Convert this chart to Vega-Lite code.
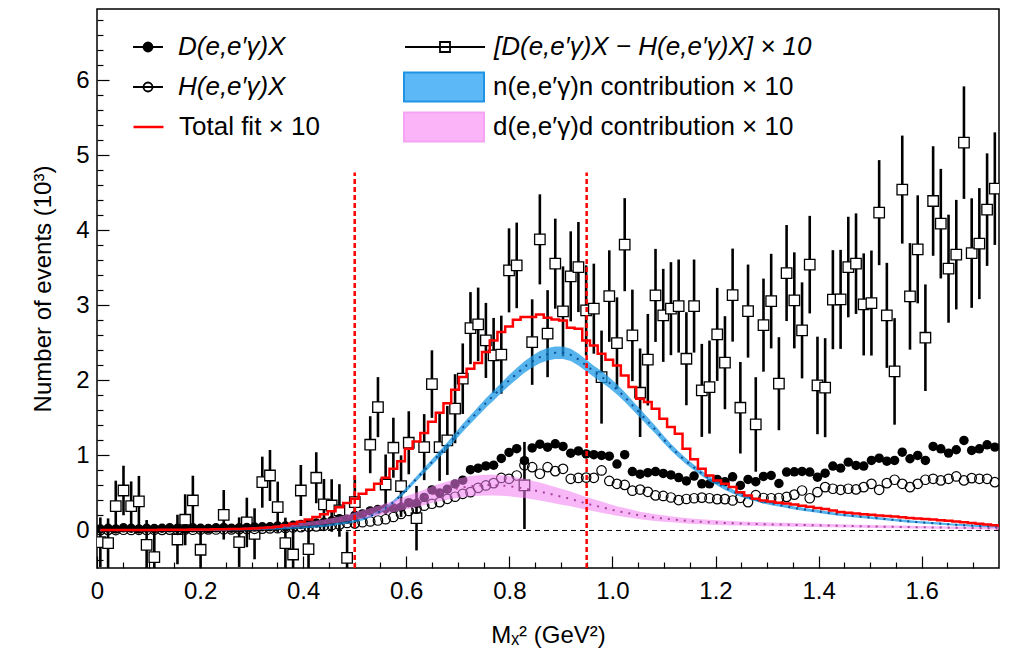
{
  "$schema": "https://vega.github.io/schema/vega-lite/v6.json",
  "width": 902,
  "height": 559,
  "autosize": {"type": "none"},
  "padding": {"left": 97, "top": 9, "right": 11, "bottom": 82},
  "background": "white",
  "config": {
    "view": {"stroke": "black", "strokeWidth": 1.5},
    "font": "Liberation Sans",
    "axis": {"labelFont": "Liberation Sans", "titleFont": "Liberation Sans", "labelColor": "black", "titleColor": "black", "titleFontWeight": "normal", "domain": false, "grid": false, "tickColor": "black", "tickWidth": 1.2, "labelOverlap": false, "labelFlush": false},
    "legend": {"orient": "none", "rowPadding": 8, "padding": 0, "symbolSize": 6400, "clipHeight": 32, "symbolOffset": 0, "labelOffset": 8, "labelFont": "Liberation Sans", "labelFontSize": 26, "labelColor": "black", "labelLimit": 1000, "symbolOpacity": 1, "symbolStrokeWidth": 1.8}
  },
  "resolve": {
    "axis": {"x": "independent", "y": "independent"},
    "scale": {"shape": "independent", "fill": "independent", "stroke": "independent"},
    "legend": {"shape": "independent", "fill": "independent", "stroke": "independent"}
  },
  "datasets": {
    "bins": [
{"x":0.0065,"D":0.02,"H":0.005,"S":-0.156,"E":0.33,"F":0.005,"N":0.004,"NE":0.012,"P":0.002,"PE":0.008},
{"x":0.0215,"D":0.03,"H":0.008,"S":-0.169,"E":0.33,"F":0.005,"N":0.004,"NE":0.012,"P":0.002,"PE":0.008},
{"x":0.0364,"D":0.02,"H":0.006,"S":0.324,"E":0.34,"F":0.006,"N":0.004,"NE":0.012,"P":0.002,"PE":0.008},
{"x":0.0514,"D":0.035,"H":0.01,"S":0.533,"E":0.33,"F":0.006,"N":0.004,"NE":0.012,"P":0.002,"PE":0.008},
{"x":0.0663,"D":0.03,"H":0.007,"S":0.324,"E":0.33,"F":0.007,"N":0.004,"NE":0.012,"P":0.003,"PE":0.009},
{"x":0.0813,"D":0.02,"H":0.009,"S":0.387,"E":0.34,"F":0.007,"N":0.004,"NE":0.012,"P":0.003,"PE":0.009},
{"x":0.0963,"D":0.03,"H":0.006,"S":-0.191,"E":0.33,"F":0.008,"N":0.004,"NE":0.012,"P":0.003,"PE":0.009},
{"x":0.1112,"D":0.025,"H":0.01,"S":-0.356,"E":0.33,"F":0.008,"N":0.006,"NE":0.012,"P":0.004,"PE":0.009},
{"x":0.1262,"D":0.03,"H":0.008,"F":0.009,"N":0.006,"NE":0.012,"P":0.004,"PE":0.009},
{"x":0.1411,"D":0.035,"H":0.011,"F":0.01,"N":0.006,"NE":0.012,"P":0.005,"PE":0.009},
{"x":0.1561,"D":0.03,"H":0.009,"S":-0.12,"E":0.33,"F":0.01,"N":0.006,"NE":0.012,"P":0.005,"PE":0.009},
{"x":0.1711,"D":0.02,"H":0.012,"S":0.143,"E":0.34,"F":0.011,"N":0.006,"NE":0.012,"P":0.006,"PE":0.009},
{"x":0.186,"D":0.035,"H":0.01,"S":0.4,"E":0.33,"F":0.012,"N":0.006,"NE":0.012,"P":0.006,"PE":0.009},
{"x":0.201,"D":0.03,"H":0.012,"S":-0.257,"E":0.33,"F":0.013,"N":0.006,"NE":0.012,"P":0.008,"PE":0.01},
{"x":0.2159,"D":0.025,"H":0.014,"F":0.014,"N":0.008,"NE":0.012,"P":0.01,"PE":0.01},
{"x":0.2309,"D":0.035,"H":0.013,"F":0.015,"N":0.009,"NE":0.012,"P":0.012,"PE":0.011},
{"x":0.2459,"D":0.04,"H":0.016,"S":0.209,"E":0.33,"F":0.017,"N":0.01,"NE":0.012,"P":0.014,"PE":0.011},
{"x":0.2608,"D":0.03,"H":0.015,"F":0.019,"N":0.012,"NE":0.012,"P":0.017,"PE":0.012},
{"x":0.2758,"D":0.035,"H":0.018,"S":-0.156,"E":0.33,"F":0.021,"N":0.013,"NE":0.012,"P":0.021,"PE":0.013},
{"x":0.2907,"D":0.04,"H":0.02,"S":0.107,"E":0.33,"F":0.024,"N":0.015,"NE":0.012,"P":0.025,"PE":0.013},
{"x":0.3057,"D":0.045,"H":0.022,"S":-0.044,"E":0.34,"F":0.028,"N":0.017,"NE":0.013,"P":0.03,"PE":0.014},
{"x":0.3207,"D":0.05,"H":0.025,"S":0.644,"E":0.34,"F":0.033,"N":0.019,"NE":0.013,"P":0.035,"PE":0.016},
{"x":0.3356,"D":0.05,"H":0.028,"S":0.733,"E":0.34,"F":0.04,"N":0.022,"NE":0.013,"P":0.041,"PE":0.017},
{"x":0.3506,"D":0.06,"H":0.03,"S":0.311,"E":0.34,"F":0.05,"N":0.026,"NE":0.013,"P":0.049,"PE":0.019},
{"x":0.3655,"D":0.06,"H":0.034,"S":-0.169,"E":0.34,"F":0.07,"N":0.03,"NE":0.013,"P":0.057,"PE":0.02},
{"x":0.3805,"D":0.07,"H":0.04,"S":-0.32,"E":0.34,"F":0.09,"N":0.035,"NE":0.013,"P":0.066,"PE":0.022},
{"x":0.3955,"D":0.08,"H":0.045,"S":0.533,"E":0.34,"F":0.115,"N":0.04,"NE":0.013,"P":0.077,"PE":0.025},
{"x":0.4104,"D":0.09,"H":0.05,"S":-0.249,"E":0.34,"F":0.145,"N":0.047,"NE":0.013,"P":0.089,"PE":0.027},
{"x":0.4254,"D":0.1,"H":0.055,"S":0.703,"E":0.34,"F":0.18,"N":0.055,"NE":0.014,"P":0.1,"PE":0.03},
{"x":0.4403,"D":0.11,"H":0.062,"S":0.347,"E":0.34,"F":0.215,"N":0.064,"NE":0.014,"P":0.113,"PE":0.032},
{"x":0.4553,"D":0.13,"H":0.07,"S":0.333,"E":0.35,"F":0.255,"N":0.075,"NE":0.014,"P":0.13,"PE":0.036},
{"x":0.4703,"D":0.155,"H":0.078,"S":0.267,"E":0.35,"F":0.31,"N":0.09,"NE":0.015,"P":0.148,"PE":0.04},
{"x":0.4852,"D":0.15,"H":0.1,"S":-0.364,"E":0.35,"F":0.365,"N":0.105,"NE":0.015,"P":0.168,"PE":0.044},
{"x":0.5002,"D":0.2,"H":0.095,"S":0.377,"E":0.35,"F":0.422,"N":0.125,"NE":0.016,"P":0.19,"PE":0.049},
{"x":0.5151,"D":0.22,"H":0.11,"F":0.489,"N":0.15,"NE":0.017,"P":0.215,"PE":0.054},
{"x":0.5301,"D":0.26,"H":0.12,"S":1.143,"E":0.38,"F":0.542,"N":0.19,"NE":0.018,"P":0.24,"PE":0.06},
{"x":0.5451,"D":0.28,"H":0.133,"S":1.644,"E":0.4,"F":0.622,"N":0.24,"NE":0.019,"P":0.265,"PE":0.065},
{"x":0.56,"D":0.29,"H":0.15,"S":0.613,"E":0.4,"F":0.702,"N":0.3,"NE":0.021,"P":0.29,"PE":0.07},
{"x":0.575,"D":0.3,"H":0.18,"S":1.103,"E":0.4,"F":0.822,"N":0.38,"NE":0.023,"P":0.32,"PE":0.077},
{"x":0.5899,"D":0.31,"H":0.22,"S":0.591,"E":0.41,"F":0.924,"N":0.47,"NE":0.026,"P":0.35,"PE":0.083},
{"x":0.6049,"D":0.37,"H":0.26,"S":1.169,"E":0.42,"F":1.09,"N":0.58,"NE":0.029,"P":0.38,"PE":0.09},
{"x":0.6199,"D":0.36,"H":0.29,"S":0.164,"E":0.43,"F":1.185,"N":0.69,"NE":0.033,"P":0.41,"PE":0.096},
{"x":0.6348,"D":0.44,"H":0.33,"S":1.111,"E":0.44,"F":1.3,"N":0.8,"NE":0.036,"P":0.44,"PE":0.103},
{"x":0.6498,"D":0.54,"H":0.356,"S":1.951,"E":0.45,"F":1.45,"N":0.91,"NE":0.039,"P":0.48,"PE":0.111},
{"x":0.6647,"D":0.5,"H":0.378,"S":1.111,"E":0.45,"F":1.57,"N":1.02,"NE":0.043,"P":0.505,"PE":0.117},
{"x":0.6797,"D":0.55,"H":0.422,"S":1.2,"E":0.46,"F":1.695,"N":1.13,"NE":0.046,"P":0.53,"PE":0.122},
{"x":0.6947,"D":0.62,"H":0.45,"S":1.623,"E":0.46,"F":1.876,"N":1.25,"NE":0.05,"P":0.555,"PE":0.127},
{"x":0.7096,"D":0.67,"H":0.489,"S":2.023,"E":0.47,"F":2.044,"N":1.37,"NE":0.053,"P":0.575,"PE":0.132},
{"x":0.7246,"D":0.81,"H":0.511,"S":2.697,"E":0.48,"F":2.156,"N":1.48,"NE":0.056,"P":0.59,"PE":0.135},
{"x":0.7395,"D":0.83,"H":0.569,"S":2.747,"E":0.49,"F":2.231,"N":1.59,"NE":0.06,"P":0.6,"PE":0.137},
{"x":0.7545,"D":0.86,"H":0.6,"S":2.533,"E":0.5,"F":2.378,"N":1.7,"NE":0.063,"P":0.605,"PE":0.138},
{"x":0.7695,"D":0.87,"H":0.631,"S":2.333,"E":0.5,"F":2.533,"N":1.8,"NE":0.066,"P":0.605,"PE":0.138},
{"x":0.7844,"D":0.96,"H":0.7,"S":2.343,"E":0.52,"F":2.644,"N":1.9,"NE":0.069,"P":0.6,"PE":0.137},
{"x":0.7994,"D":1.04,"H":0.689,"S":3.467,"E":0.56,"F":2.72,"N":2.0,"NE":0.072,"P":0.59,"PE":0.135},
{"x":0.8143,"D":1.09,"H":0.733,"S":3.533,"E":0.57,"F":2.809,"N":2.09,"NE":0.075,"P":0.575,"PE":0.132},
{"x":0.8293,"D":0.93,"H":0.87,"S":0.6,"E":0.58,"F":2.844,"N":2.18,"NE":0.077,"P":0.56,"PE":0.128},
{"x":0.8443,"D":1.1,"H":0.844,"S":2.511,"E":0.57,"F":2.844,"N":2.25,"NE":0.08,"P":0.54,"PE":0.124},
{"x":0.8592,"D":1.15,"H":0.756,"S":3.88,"E":0.6,"F":2.88,"N":2.31,"NE":0.081,"P":0.52,"PE":0.12},
{"x":0.8742,"D":1.11,"H":0.844,"S":2.623,"E":0.58,"F":2.836,"N":2.35,"NE":0.083,"P":0.495,"PE":0.114},
{"x":0.8891,"D":1.155,"H":0.791,"S":3.556,"E":0.6,"F":2.813,"N":2.37,"NE":0.083,"P":0.47,"PE":0.109},
{"x":0.9041,"D":1.12,"H":0.822,"S":2.92,"E":0.6,"F":2.8,"N":2.37,"NE":0.083,"P":0.445,"PE":0.104},
{"x":0.9191,"D":1.03,"H":0.689,"S":3.387,"E":0.6,"F":2.702,"N":2.34,"NE":0.082,"P":0.42,"PE":0.098},
{"x":0.934,"D":1.06,"H":0.7,"S":3.511,"E":0.6,"F":2.689,"N":2.28,"NE":0.08,"P":0.39,"PE":0.092},
{"x":0.949,"D":1.02,"H":0.705,"S":2.933,"E":0.6,"F":2.533,"N":2.2,"NE":0.078,"P":0.36,"PE":0.085},
{"x":0.9639,"D":1.01,"H":0.702,"S":2.956,"E":0.6,"F":2.467,"N":2.12,"NE":0.076,"P":0.335,"PE":0.08},
{"x":0.9789,"D":1.0,"H":0.8,"S":2.044,"E":0.62,"F":2.356,"N":2.05,"NE":0.074,"P":0.31,"PE":0.075},
{"x":0.9939,"D":0.99,"H":0.66,"S":3.124,"E":0.61,"F":2.276,"N":1.97,"NE":0.071,"P":0.285,"PE":0.069},
{"x":1.0088,"D":0.885,"H":0.622,"S":2.497,"E":0.61,"F":2.2,"N":1.88,"NE":0.068,"P":0.26,"PE":0.064},
{"x":1.0238,"D":1.01,"H":0.607,"S":3.809,"E":0.62,"F":2.067,"N":1.78,"NE":0.065,"P":0.24,"PE":0.06},
{"x":1.0387,"D":0.785,"H":0.53,"S":2.6,"E":0.61,"F":1.911,"N":1.67,"NE":0.062,"P":0.22,"PE":0.055},
{"x":1.0537,"D":0.75,"H":0.545,"S":1.836,"E":0.59,"F":1.756,"N":1.56,"NE":0.059,"P":0.2,"PE":0.051},
{"x":1.0687,"D":0.77,"H":0.515,"S":2.276,"E":0.61,"F":1.711,"N":1.45,"NE":0.056,"P":0.185,"PE":0.048},
{"x":1.0836,"D":0.785,"H":0.467,"S":3.133,"E":0.62,"F":1.622,"N":1.34,"NE":0.052,"P":0.17,"PE":0.045},
{"x":1.0986,"D":0.76,"H":0.46,"S":2.867,"E":0.62,"F":1.489,"N":1.22,"NE":0.049,"P":0.16,"PE":0.042},
{"x":1.1135,"D":0.74,"H":0.44,"S":2.956,"E":0.62,"F":1.378,"N":1.11,"NE":0.045,"P":0.15,"PE":0.04},
{"x":1.1285,"D":0.705,"H":0.405,"S":2.991,"E":0.62,"F":1.289,"N":1.01,"NE":0.042,"P":0.14,"PE":0.038},
{"x":1.1435,"D":0.66,"H":0.42,"S":2.289,"E":0.62,"F":1.089,"N":0.92,"NE":0.04,"P":0.13,"PE":0.036},
{"x":1.1584,"D":0.725,"H":0.43,"S":2.991,"E":0.62,"F":0.95,"N":0.84,"NE":0.037,"P":0.122,"PE":0.034},
{"x":1.1734,"D":0.622,"H":0.438,"S":1.867,"E":0.62,"F":0.822,"N":0.76,"NE":0.035,"P":0.116,"PE":0.033},
{"x":1.1883,"D":0.622,"H":0.43,"S":1.911,"E":0.62,"F":0.733,"N":0.69,"NE":0.033,"P":0.11,"PE":0.032},
{"x":1.2033,"D":0.68,"H":0.418,"S":2.613,"E":0.62,"F":0.667,"N":0.63,"NE":0.031,"P":0.105,"PE":0.031},
{"x":1.2183,"D":0.65,"H":0.418,"S":2.236,"E":0.62,"F":0.622,"N":0.57,"NE":0.029,"P":0.1,"PE":0.03},
{"x":1.2332,"D":0.715,"H":0.4,"S":3.137,"E":0.62,"F":0.578,"N":0.52,"NE":0.028,"P":0.096,"PE":0.029},
{"x":1.2482,"D":0.6,"H":0.435,"S":1.636,"E":0.61,"F":0.511,"N":0.475,"NE":0.026,"P":0.093,"PE":0.028},
{"x":1.2631,"D":0.68,"H":0.378,"S":2.924,"E":0.62,"F":0.467,"N":0.44,"NE":0.025,"P":0.09,"PE":0.027},
{"x":1.2781,"D":0.65,"H":0.47,"S":1.413,"E":0.63,"F":0.422,"N":0.41,"NE":0.024,"P":0.087,"PE":0.027},
{"x":1.2931,"D":0.72,"H":0.433,"S":2.737,"E":0.62,"F":0.4,"N":0.385,"NE":0.024,"P":0.084,"PE":0.026},
{"x":1.308,"D":0.733,"H":0.43,"S":3.057,"E":0.63,"F":0.385,"N":0.36,"NE":0.023,"P":0.081,"PE":0.025},
{"x":1.323,"D":0.626,"H":0.433,"S":1.956,"E":0.62,"F":0.37,"N":0.34,"NE":0.022,"P":0.079,"PE":0.025},
{"x":1.3379,"D":0.778,"H":0.447,"S":3.431,"E":0.64,"F":0.36,"N":0.32,"NE":0.022,"P":0.077,"PE":0.025},
{"x":1.3529,"D":0.782,"H":0.478,"S":3.067,"E":0.64,"F":0.345,"N":0.3,"NE":0.021,"P":0.075,"PE":0.024},
{"x":1.3679,"D":0.787,"H":0.533,"S":2.667,"E":0.64,"F":0.33,"N":0.285,"NE":0.021,"P":0.073,"PE":0.024},
{"x":1.3828,"D":0.778,"H":0.43,"S":3.543,"E":0.65,"F":0.315,"N":0.27,"NE":0.02,"P":0.071,"PE":0.023},
{"x":1.3978,"D":0.711,"H":0.511,"S":1.933,"E":0.65,"F":0.3,"N":0.255,"NE":0.02,"P":0.069,"PE":0.023},
{"x":1.4127,"D":0.764,"H":0.578,"S":1.903,"E":0.66,"F":0.285,"N":0.24,"NE":0.019,"P":0.066,"PE":0.022},
{"x":1.4277,"D":0.858,"H":0.556,"S":3.076,"E":0.66,"F":0.265,"N":0.225,"NE":0.019,"P":0.064,"PE":0.022},
{"x":1.4427,"D":0.831,"H":0.542,"S":3.08,"E":0.66,"F":0.245,"N":0.21,"NE":0.018,"P":0.062,"PE":0.021},
{"x":1.4576,"D":0.911,"H":0.556,"S":3.511,"E":0.67,"F":0.235,"N":0.2,"NE":0.018,"P":0.06,"PE":0.021},
{"x":1.4726,"D":0.867,"H":0.547,"S":3.556,"E":0.67,"F":0.225,"N":0.19,"NE":0.018,"P":0.058,"PE":0.02},
{"x":1.4875,"D":0.858,"H":0.578,"S":3.013,"E":0.68,"F":0.218,"N":0.18,"NE":0.017,"P":0.056,"PE":0.02},
{"x":1.5025,"D":0.933,"H":0.622,"S":3.031,"E":0.7,"F":0.21,"N":0.17,"NE":0.017,"P":0.053,"PE":0.019},
{"x":1.5175,"D":0.964,"H":0.542,"S":4.236,"E":0.7,"F":0.2,"N":0.16,"NE":0.017,"P":0.052,"PE":0.019},
{"x":1.5324,"D":0.924,"H":0.631,"S":2.867,"E":0.7,"F":0.193,"N":0.15,"NE":0.017,"P":0.05,"PE":0.019},
{"x":1.5474,"D":0.933,"H":0.676,"S":2.12,"E":0.71,"F":0.185,"N":0.14,"NE":0.016,"P":0.049,"PE":0.019},
{"x":1.5623,"D":1.044,"H":0.622,"S":4.543,"E":0.72,"F":0.175,"N":0.13,"NE":0.016,"P":0.047,"PE":0.018},
{"x":1.5773,"D":0.956,"H":0.578,"S":3.12,"E":0.71,"F":0.168,"N":0.12,"NE":0.016,"P":0.046,"PE":0.018},
{"x":1.5923,"D":1.0,"H":0.622,"S":3.747,"E":0.72,"F":0.16,"N":0.112,"NE":0.015,"P":0.044,"PE":0.017},
{"x":1.6072,"D":0.933,"H":0.676,"S":2.569,"E":0.71,"F":0.153,"N":0.104,"NE":0.015,"P":0.043,"PE":0.017},
{"x":1.6222,"D":1.12,"H":0.689,"S":4.391,"E":0.73,"F":0.145,"N":0.097,"NE":0.015,"P":0.041,"PE":0.017},
{"x":1.6371,"D":1.089,"H":0.667,"S":4.089,"E":0.73,"F":0.138,"N":0.09,"NE":0.015,"P":0.04,"PE":0.017},
{"x":1.6521,"D":1.031,"H":0.689,"S":3.489,"E":0.72,"F":0.13,"N":0.083,"NE":0.014,"P":0.038,"PE":0.016},
{"x":1.6671,"D":1.076,"H":0.72,"S":3.676,"E":0.73,"F":0.12,"N":0.077,"NE":0.014,"P":0.037,"PE":0.016},
{"x":1.682,"D":1.2,"H":0.667,"S":5.169,"E":0.75,"F":0.11,"N":0.071,"NE":0.014,"P":0.035,"PE":0.016},
{"x":1.697,"D":1.067,"H":0.698,"S":3.697,"E":0.73,"F":0.1,"N":0.065,"NE":0.014,"P":0.033,"PE":0.015},
{"x":1.7119,"D":1.089,"H":0.689,"S":3.823,"E":0.74,"F":0.09,"N":0.06,"NE":0.014,"P":0.032,"PE":0.015},
{"x":1.7269,"D":1.142,"H":0.689,"S":4.276,"E":0.75,"F":0.08,"N":0.055,"NE":0.014,"P":0.03,"PE":0.014},
{"x":1.7419,"D":1.111,"H":0.644,"S":4.556,"E":0.75,"F":0.07,"N":0.05,"NE":0.014,"P":0.028,"PE":0.014},
{"x":1.7568,"F":0.06,"N":0.046,"NE":0.013,"P":0.027,"PE":0.014}
    ]
  },
  "layer": [
    {
      "data": {"name": "bins"},
      "transform": [{"filter": "isValid(datum.S)"}],
      "mark": {"type": "errorbar", "thickness": 2.6, "color": "black", "clip": true},
      "encoding": {
        "x": {"field": "x", "type": "quantitative", "scale": {"domain": [0, 1.75], "nice": false, "zero": false}, "axis": null},
        "y": {"field": "S", "type": "quantitative", "scale": {"domain": [-0.5, 6.95], "nice": false, "zero": false}, "axis": null},
        "yError": {"field": "E"}
      }
    },
    {
      "data": {"name": "bins"},
      "transform": [{"filter": "isValid(datum.S)"}],
      "mark": {"type": "point", "shape": "square", "filled": true, "fill": "white", "stroke": "black", "strokeWidth": 1.3, "size": 110, "opacity": 1, "clip": true},
      "encoding": {
        "x": {"field": "x", "type": "quantitative", "scale": {"domain": [0, 1.75], "nice": false, "zero": false},
          "axis": {
            "title": "Mₓ² (GeV²)",
            "values": [0,0.05,0.1,0.15,0.2,0.25,0.3,0.35,0.4,0.45,0.5,0.55,0.6,0.65,0.7,0.75,0.8,0.85,0.9,0.95,1,1.05,1.1,1.15,1.2,1.25,1.3,1.35,1.4,1.45,1.5,1.55,1.6,1.65,1.7],
            "labelExpr": "abs(datum.value*5 - round(datum.value*5)) < 0.001 ? (datum.value < 0.001 ? '0' : format(datum.value, '.1f')) : ''",
            "tickSize": {"condition": {"test": "abs(datum.value*5 - round(datum.value*5)) < 0.001", "value": -12}, "value": -6},
            "labelFontSize": 24, "labelPadding": 23, "titleFontSize": 24, "titlePadding": 14
          }},
        "y": {"field": "S", "type": "quantitative", "scale": {"domain": [-0.5, 6.95], "nice": false, "zero": false},
          "axis": {
            "title": "Number of events (10³)",
            "values": [-0.4,-0.2,0,0.2,0.4,0.6,0.8,1,1.2,1.4,1.6,1.8,2,2.2,2.4,2.6,2.8,3,3.2,3.4,3.6,3.8,4,4.2,4.4,4.6,4.8,5,5.2,5.4,5.6,5.8,6,6.2,6.4,6.6,6.8],
            "labelExpr": "abs(datum.value - round(datum.value)) < 0.001 ? format(round(datum.value), 'd') : ''",
            "tickSize": {"condition": {"test": "abs(datum.value - round(datum.value)) < 0.001", "value": -12}, "value": -6},
            "labelFontSize": 24, "labelPadding": 20, "titleFontSize": 24, "titlePadding": 20
          }}
      }
    },
    {
      "data": {"values": [{}]},
      "mark": {"type": "rule", "color": "black", "strokeWidth": 1, "strokeDash": [5, 4]},
      "encoding": {"y": {"datum": 0, "type": "quantitative", "scale": {"domain": [-0.5, 6.95], "nice": false, "zero": false}, "axis": null}}
    },
    {
      "data": {"name": "bins"},
      "transform": [{"filter": "isValid(datum.H)"}],
      "mark": {"type": "point", "shape": "circle", "filled": false, "stroke": "black", "strokeWidth": 1.2, "size": 90, "opacity": 1, "clip": true},
      "encoding": {
        "x": {"field": "x", "type": "quantitative", "scale": {"domain": [0, 1.75], "nice": false, "zero": false}, "axis": null},
        "y": {"field": "H", "type": "quantitative", "scale": {"domain": [-0.5, 6.95], "nice": false, "zero": false}, "axis": null}
      }
    },
    {
      "data": {"name": "bins"},
      "transform": [{"filter": "isValid(datum.D)"}],
      "mark": {"type": "point", "shape": "circle", "filled": true, "color": "black", "size": 90, "opacity": 1, "clip": true},
      "encoding": {
        "x": {"field": "x", "type": "quantitative", "scale": {"domain": [0, 1.75], "nice": false, "zero": false}, "axis": null},
        "y": {"field": "D", "type": "quantitative", "scale": {"domain": [-0.5, 6.95], "nice": false, "zero": false}, "axis": null}
      }
    },
    {
      "data": {"name": "bins"},
      "mark": {"type": "errorband", "color": "#1e9ae6", "band": {"opacity": 0.75}, "clip": true},
      "encoding": {
        "x": {"field": "x", "type": "quantitative", "scale": {"domain": [0, 1.75], "nice": false, "zero": false}, "axis": null},
        "y": {"field": "N", "type": "quantitative", "scale": {"domain": [-0.5, 6.95], "nice": false, "zero": false}, "axis": null},
        "yError": {"field": "NE"}
      }
    },
    {
      "data": {"name": "bins"},
      "mark": {"type": "errorband", "color": "#f27ef0", "band": {"opacity": 0.55}, "clip": true},
      "encoding": {
        "x": {"field": "x", "type": "quantitative", "scale": {"domain": [0, 1.75], "nice": false, "zero": false}, "axis": null},
        "y": {"field": "P", "type": "quantitative", "scale": {"domain": [-0.5, 6.95], "nice": false, "zero": false}, "axis": null},
        "yError": {"field": "PE"}
      }
    },
    {
      "data": {"name": "bins"},
      "mark": {"type": "line", "color": "#0c4f96", "strokeWidth": 2, "strokeDash": [2, 6], "clip": true},
      "encoding": {
        "x": {"field": "x", "type": "quantitative", "scale": {"domain": [0, 1.75], "nice": false, "zero": false}, "axis": null},
        "y": {"field": "N", "type": "quantitative", "scale": {"domain": [-0.5, 6.95], "nice": false, "zero": false}, "axis": null}
      }
    },
    {
      "data": {"name": "bins"},
      "mark": {"type": "line", "color": "#a8439f", "strokeWidth": 2, "strokeDash": [2, 6], "clip": true},
      "encoding": {
        "x": {"field": "x", "type": "quantitative", "scale": {"domain": [0, 1.75], "nice": false, "zero": false}, "axis": null},
        "y": {"field": "P", "type": "quantitative", "scale": {"domain": [-0.5, 6.95], "nice": false, "zero": false}, "axis": null}
      }
    },
    {
      "data": {"name": "bins"},
      "mark": {"type": "line", "color": "#ff0000", "strokeWidth": 2.5, "interpolate": "step", "clip": true},
      "encoding": {
        "x": {"field": "x", "type": "quantitative", "scale": {"domain": [0, 1.75], "nice": false, "zero": false}, "axis": null},
        "y": {"field": "F", "type": "quantitative", "scale": {"domain": [-0.5, 6.95], "nice": false, "zero": false}, "axis": null}
      }
    },
    {
      "data": {"values": [{"v": 0.5}, {"v": 0.95}]},
      "mark": {"type": "rule", "color": "#ff0000", "strokeWidth": 2.5, "strokeDash": [5, 3]},
      "encoding": {
        "x": {"field": "v", "type": "quantitative", "scale": {"domain": [0, 1.75], "nice": false, "zero": false}, "axis": null},
        "y": {"datum": -0.5, "type": "quantitative", "scale": {"domain": [-0.5, 6.95], "nice": false, "zero": false}, "axis": null},
        "y2": {"datum": 4.77}
      }
    },
    {
      "data": {"values": [
        {"entry": "D(e,e′γ)X"},
        {"entry": "H(e,e′γ)X"},
        {"entry": "[D(e,e′γ)X − H(e,e′γ)X] × 10"}
      ]},
      "mark": {"type": "point", "opacity": 0},
      "encoding": {
        "shape": {
          "field": "entry", "type": "nominal",
          "scale": {
            "domain": ["D(e,e′γ)X", "H(e,e′γ)X", "[D(e,e′γ)X − H(e,e′γ)X] × 10"],
            "range": ["M0.1,0H0.85M0.3625,0A0.1125,0.1125,0,1,1,0.5875,0A0.1125,0.1125,0,1,1,0.3625,0Z", "M0.1,0H0.85M0.3625,0A0.1125,0.1125,0,1,1,0.5875,0A0.1125,0.1125,0,1,1,0.3625,0Z", "M-1,0H1M-0.125,-0.125H0.125V0.125H-0.125Z"]
          },
          "legend": {"title": null, "legendX": -9, "legendY": 22, "columns": 2, "columnPadding": 118, "labelFontStyle": "italic"}
        },
        "fill": {
          "field": "entry", "type": "nominal",
          "scale": {
            "domain": ["D(e,e′γ)X", "H(e,e′γ)X", "[D(e,e′γ)X − H(e,e′γ)X] × 10"],
            "range": ["black", "transparent", "transparent"]
          },
          "legend": {"title": null, "legendX": -9, "legendY": 22, "columns": 2, "columnPadding": 118, "labelFontStyle": "italic"}
        },
        "stroke": {
          "field": "entry", "type": "nominal",
          "scale": {
            "domain": ["D(e,e′γ)X", "H(e,e′γ)X", "[D(e,e′γ)X − H(e,e′γ)X] × 10"],
            "range": ["black", "black", "black"]
          },
          "legend": {"title": null, "legendX": -9, "legendY": 22, "columns": 2, "columnPadding": 118, "labelFontStyle": "italic"}
        }
      }
    },
    {
      "data": {"values": [{"entry": "Total fit × 10"}]},
      "mark": {"type": "point", "opacity": 0},
      "encoding": {
        "shape": {
          "field": "entry", "type": "nominal",
          "scale": {"domain": ["Total fit × 10"], "range": ["M0.1,0H0.85"]},
          "legend": {"title": null, "legendX": -9, "legendY": 102, "columns": 1}
        },
        "fill": {
          "field": "entry", "type": "nominal",
          "scale": {"domain": ["Total fit × 10"], "range": ["transparent"]},
          "legend": {"title": null, "legendX": -9, "legendY": 102, "columns": 1}
        },
        "stroke": {
          "field": "entry", "type": "nominal",
          "scale": {"domain": ["Total fit × 10"], "range": ["#ff0000"]},
          "legend": {"title": null, "legendX": -9, "legendY": 102, "columns": 1, "symbolStrokeWidth": 2.5}
        }
      }
    },
    {
      "data": {"values": [
        {"entry": "n(e,e′γ)n contribution × 10"},
        {"entry": "d(e,e′γ)d contribution × 10"}
      ]},
      "mark": {"type": "point", "opacity": 0},
      "encoding": {
        "shape": {
          "field": "entry", "type": "nominal",
          "scale": {"domain": ["n(e,e′γ)n contribution × 10", "d(e,e′γ)d contribution × 10"], "range": ["M-1,-0.36H1V0.36H-1Z", "M-1,-0.36H1V0.36H-1Z"]},
          "legend": {"title": null, "legendX": 306, "legendY": 62, "columns": 1}
        },
        "fill": {
          "field": "entry", "type": "nominal",
          "scale": {"domain": ["n(e,e′γ)n contribution × 10", "d(e,e′γ)d contribution × 10"], "range": ["#5cb8f7", "#fcb4f9"]},
          "legend": {"title": null, "legendX": 306, "legendY": 62, "columns": 1}
        },
        "stroke": {
          "field": "entry", "type": "nominal",
          "scale": {"domain": ["n(e,e′γ)n contribution × 10", "d(e,e′γ)d contribution × 10"], "range": ["#1f93e4", "#f7a3f3"]},
          "legend": {"title": null, "legendX": 306, "legendY": 62, "columns": 1, "symbolStrokeWidth": 2}
        }
      }
    }
  ]
}
